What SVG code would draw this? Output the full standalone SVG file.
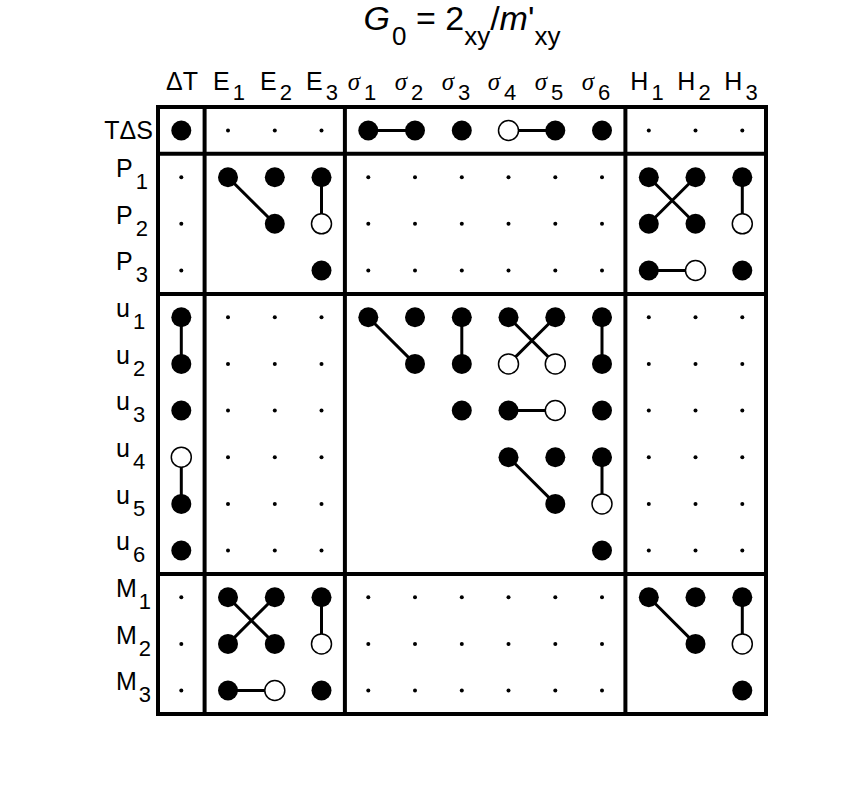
<svg xmlns="http://www.w3.org/2000/svg" width="856" height="812" viewBox="0 0 856 812">
<style>
text{font-family:"Liberation Sans",Arial,sans-serif;fill:#000}
.t{font-size:34px}
.ts{font-size:26px}
.h{font-size:25px;text-anchor:middle}
.sub{font-size:22px}
.sg{font-family:"Liberation Serif","Times New Roman",serif;font-style:italic}
.rl{font-size:25px}
.F{fill:#000}
.O{fill:#fff;stroke:#000;stroke-width:1.5}
.s{fill:#000}
.grid{fill:none;stroke:#000;stroke-width:4}
.sep{stroke:#000;stroke-width:4}
.c{stroke:#000;stroke-width:3;fill:none}
</style>
<rect width="856" height="812" fill="#fff"/>
<g id="title">
<text class="t" x="462" y="30" text-anchor="middle"><tspan font-style="italic">G</tspan><tspan class="ts" dx="2" dy="15">0</tspan><tspan dy="-15"> = 2</tspan><tspan class="ts" dy="15">xy</tspan><tspan dy="-15">/</tspan><tspan font-style="italic">m</tspan><tspan>'</tspan><tspan class="ts" dy="15">xy</tspan></text>
</g>
<g id="col-labels">
<text class="h" x="182" y="90">ΔT</text>
<text class="h" x="229" y="90">E<tspan class="sub" dx="3" dy="10">1</tspan></text>
<text class="h" x="276" y="90">E<tspan class="sub" dx="3" dy="10">2</tspan></text>
<text class="h" x="322" y="90">E<tspan class="sub" dx="3" dy="10">3</tspan></text>
<text class="h" x="362" y="90"><tspan class="sg">σ</tspan><tspan class="sub" dx="4" dy="10">1</tspan></text>
<text class="h" x="409" y="90"><tspan class="sg">σ</tspan><tspan class="sub" dx="4" dy="10">2</tspan></text>
<text class="h" x="456" y="90"><tspan class="sg">σ</tspan><tspan class="sub" dx="4" dy="10">3</tspan></text>
<text class="h" x="502" y="90"><tspan class="sg">σ</tspan><tspan class="sub" dx="4" dy="10">4</tspan></text>
<text class="h" x="549" y="90"><tspan class="sg">σ</tspan><tspan class="sub" dx="4" dy="10">5</tspan></text>
<text class="h" x="596" y="90"><tspan class="sg">σ</tspan><tspan class="sub" dx="4" dy="10">6</tspan></text>
<text class="h" x="647" y="90">H<tspan class="sub" dx="3" dy="10">1</tspan></text>
<text class="h" x="694" y="90">H<tspan class="sub" dx="3" dy="10">2</tspan></text>
<text class="h" x="741" y="90">H<tspan class="sub" dx="3" dy="10">3</tspan></text>
</g>
<g id="row-labels">
<text class="rl" x="153" y="139" text-anchor="end">TΔS</text>
<text class="rl" x="116" y="177">P<tspan class="sub" dx="3" dy="12">1</tspan></text>
<text class="rl" x="116" y="224">P<tspan class="sub" dx="3" dy="12">2</tspan></text>
<text class="rl" x="116" y="270">P<tspan class="sub" dx="3" dy="12">3</tspan></text>
<text class="rl" x="116" y="317">u<tspan class="sub" dx="3" dy="12">1</tspan></text>
<text class="rl" x="116" y="364">u<tspan class="sub" dx="3" dy="12">2</tspan></text>
<text class="rl" x="116" y="410">u<tspan class="sub" dx="3" dy="12">3</tspan></text>
<text class="rl" x="116" y="457">u<tspan class="sub" dx="3" dy="12">4</tspan></text>
<text class="rl" x="116" y="504">u<tspan class="sub" dx="3" dy="12">5</tspan></text>
<text class="rl" x="116" y="550">u<tspan class="sub" dx="3" dy="12">6</tspan></text>
<text class="rl" x="116" y="597">M<tspan class="sub" dx="2" dy="12">1</tspan></text>
<text class="rl" x="116" y="644">M<tspan class="sub" dx="2" dy="12">2</tspan></text>
<text class="rl" x="116" y="690">M<tspan class="sub" dx="2" dy="12">3</tspan></text>
</g>
<g id="frame">
<rect class="grid" x="158" y="107" width="608" height="607"/>
<line class="sep" x1="204.6" y1="107" x2="204.6" y2="714"/>
<line class="sep" x1="344.9" y1="107" x2="344.9" y2="714"/>
<line class="sep" x1="625.4" y1="107" x2="625.4" y2="714"/>
<line class="sep" x1="158" y1="153.8" x2="766" y2="153.8"/>
<line class="sep" x1="158" y1="293.9" x2="766" y2="293.9"/>
<line class="sep" x1="158" y1="573.9" x2="766" y2="573.9"/>
</g>
<g id="small-dots">
<circle class="s" r="2" cx="228" cy="130.5"/><circle class="s" r="2" cx="274.8" cy="130.5"/><circle class="s" r="2" cx="321.5" cy="130.5"/><circle class="s" r="2" cx="648.8" cy="130.5"/><circle class="s" r="2" cx="695.5" cy="130.5"/><circle class="s" r="2" cx="742.3" cy="130.5"/>
<circle class="s" r="2" cx="181.3" cy="177.2"/><circle class="s" r="2" cx="368.3" cy="177.2"/><circle class="s" r="2" cx="415" cy="177.2"/><circle class="s" r="2" cx="461.8" cy="177.2"/><circle class="s" r="2" cx="508.5" cy="177.2"/><circle class="s" r="2" cx="555.3" cy="177.2"/><circle class="s" r="2" cx="602" cy="177.2"/>
<circle class="s" r="2" cx="181.3" cy="223.8"/><circle class="s" r="2" cx="368.3" cy="223.8"/><circle class="s" r="2" cx="415" cy="223.8"/><circle class="s" r="2" cx="461.8" cy="223.8"/><circle class="s" r="2" cx="508.5" cy="223.8"/><circle class="s" r="2" cx="555.3" cy="223.8"/><circle class="s" r="2" cx="602" cy="223.8"/>
<circle class="s" r="2" cx="181.3" cy="270.5"/><circle class="s" r="2" cx="368.3" cy="270.5"/><circle class="s" r="2" cx="415" cy="270.5"/><circle class="s" r="2" cx="461.8" cy="270.5"/><circle class="s" r="2" cx="508.5" cy="270.5"/><circle class="s" r="2" cx="555.3" cy="270.5"/><circle class="s" r="2" cx="602" cy="270.5"/>
<circle class="s" r="2" cx="228" cy="317.2"/><circle class="s" r="2" cx="274.8" cy="317.2"/><circle class="s" r="2" cx="321.5" cy="317.2"/><circle class="s" r="2" cx="648.8" cy="317.2"/><circle class="s" r="2" cx="695.5" cy="317.2"/><circle class="s" r="2" cx="742.3" cy="317.2"/>
<circle class="s" r="2" cx="228" cy="363.9"/><circle class="s" r="2" cx="274.8" cy="363.9"/><circle class="s" r="2" cx="321.5" cy="363.9"/><circle class="s" r="2" cx="648.8" cy="363.9"/><circle class="s" r="2" cx="695.5" cy="363.9"/><circle class="s" r="2" cx="742.3" cy="363.9"/>
<circle class="s" r="2" cx="228" cy="410.5"/><circle class="s" r="2" cx="274.8" cy="410.5"/><circle class="s" r="2" cx="321.5" cy="410.5"/><circle class="s" r="2" cx="648.8" cy="410.5"/><circle class="s" r="2" cx="695.5" cy="410.5"/><circle class="s" r="2" cx="742.3" cy="410.5"/>
<circle class="s" r="2" cx="228" cy="457.2"/><circle class="s" r="2" cx="274.8" cy="457.2"/><circle class="s" r="2" cx="321.5" cy="457.2"/><circle class="s" r="2" cx="648.8" cy="457.2"/><circle class="s" r="2" cx="695.5" cy="457.2"/><circle class="s" r="2" cx="742.3" cy="457.2"/>
<circle class="s" r="2" cx="228" cy="503.9"/><circle class="s" r="2" cx="274.8" cy="503.9"/><circle class="s" r="2" cx="321.5" cy="503.9"/><circle class="s" r="2" cx="648.8" cy="503.9"/><circle class="s" r="2" cx="695.5" cy="503.9"/><circle class="s" r="2" cx="742.3" cy="503.9"/>
<circle class="s" r="2" cx="228" cy="550.5"/><circle class="s" r="2" cx="274.8" cy="550.5"/><circle class="s" r="2" cx="321.5" cy="550.5"/><circle class="s" r="2" cx="648.8" cy="550.5"/><circle class="s" r="2" cx="695.5" cy="550.5"/><circle class="s" r="2" cx="742.3" cy="550.5"/>
<circle class="s" r="2" cx="181.3" cy="597.2"/><circle class="s" r="2" cx="368.3" cy="597.2"/><circle class="s" r="2" cx="415" cy="597.2"/><circle class="s" r="2" cx="461.8" cy="597.2"/><circle class="s" r="2" cx="508.5" cy="597.2"/><circle class="s" r="2" cx="555.3" cy="597.2"/><circle class="s" r="2" cx="602" cy="597.2"/>
<circle class="s" r="2" cx="181.3" cy="643.9"/><circle class="s" r="2" cx="368.3" cy="643.9"/><circle class="s" r="2" cx="415" cy="643.9"/><circle class="s" r="2" cx="461.8" cy="643.9"/><circle class="s" r="2" cx="508.5" cy="643.9"/><circle class="s" r="2" cx="555.3" cy="643.9"/><circle class="s" r="2" cx="602" cy="643.9"/>
<circle class="s" r="2" cx="181.3" cy="690.5"/><circle class="s" r="2" cx="368.3" cy="690.5"/><circle class="s" r="2" cx="415" cy="690.5"/><circle class="s" r="2" cx="461.8" cy="690.5"/><circle class="s" r="2" cx="508.5" cy="690.5"/><circle class="s" r="2" cx="555.3" cy="690.5"/><circle class="s" r="2" cx="602" cy="690.5"/>
</g>
<g id="connectors">
<line class="c" x1="368.3" y1="130.5" x2="415" y2="130.5"/>
<line class="c" x1="508.5" y1="130.5" x2="555.3" y2="130.5"/>
<line class="c" x1="228" y1="177.2" x2="274.8" y2="223.8"/>
<line class="c" x1="321.5" y1="177.2" x2="321.5" y2="223.8"/>
<line class="c" x1="648.8" y1="177.2" x2="695.5" y2="223.8"/>
<line class="c" x1="695.5" y1="177.2" x2="648.8" y2="223.8"/>
<line class="c" x1="742.3" y1="177.2" x2="742.3" y2="223.8"/>
<line class="c" x1="648.8" y1="270.5" x2="695.5" y2="270.5"/>
<line class="c" x1="181.3" y1="317.2" x2="181.3" y2="363.9"/>
<line class="c" x1="181.3" y1="457.2" x2="181.3" y2="503.9"/>
<line class="c" x1="368.3" y1="317.2" x2="415" y2="363.9"/>
<line class="c" x1="461.8" y1="317.2" x2="461.8" y2="363.9"/>
<line class="c" x1="508.5" y1="317.2" x2="555.3" y2="363.9"/>
<line class="c" x1="555.3" y1="317.2" x2="508.5" y2="363.9"/>
<line class="c" x1="602" y1="317.2" x2="602" y2="363.9"/>
<line class="c" x1="508.5" y1="410.5" x2="555.3" y2="410.5"/>
<line class="c" x1="508.5" y1="457.2" x2="555.3" y2="503.9"/>
<line class="c" x1="602" y1="457.2" x2="602" y2="503.9"/>
<line class="c" x1="228" y1="597.2" x2="274.8" y2="643.9"/>
<line class="c" x1="274.8" y1="597.2" x2="228" y2="643.9"/>
<line class="c" x1="321.5" y1="597.2" x2="321.5" y2="643.9"/>
<line class="c" x1="228" y1="690.5" x2="274.8" y2="690.5"/>
<line class="c" x1="648.8" y1="597.2" x2="695.5" y2="643.9"/>
<line class="c" x1="742.3" y1="597.2" x2="742.3" y2="643.9"/>
</g>
<g id="nodes">
<g id="TdS-dT"><circle class="F" r="10" cx="181.3" cy="130.5"/></g>
<g id="TdS-s1"><circle class="F" r="10" cx="368.3" cy="130.5"/></g>
<g id="TdS-s2"><circle class="F" r="10" cx="415" cy="130.5"/></g>
<g id="TdS-s3"><circle class="F" r="10" cx="461.8" cy="130.5"/></g>
<g id="TdS-s4"><circle class="O" r="10" cx="508.5" cy="130.5"/></g>
<g id="TdS-s5"><circle class="F" r="10" cx="555.3" cy="130.5"/></g>
<g id="TdS-s6"><circle class="F" r="10" cx="602" cy="130.5"/></g>
<g id="P1-E1"><circle class="F" r="10" cx="228" cy="177.2"/></g>
<g id="P1-E2"><circle class="F" r="10" cx="274.8" cy="177.2"/></g>
<g id="P1-E3"><circle class="F" r="10" cx="321.5" cy="177.2"/></g>
<g id="P1-H1"><circle class="F" r="10" cx="648.8" cy="177.2"/></g>
<g id="P1-H2"><circle class="F" r="10" cx="695.5" cy="177.2"/></g>
<g id="P1-H3"><circle class="F" r="10" cx="742.3" cy="177.2"/></g>
<g id="P2-E2"><circle class="F" r="10" cx="274.8" cy="223.8"/></g>
<g id="P2-E3"><circle class="O" r="10" cx="321.5" cy="223.8"/></g>
<g id="P2-H1"><circle class="F" r="10" cx="648.8" cy="223.8"/></g>
<g id="P2-H2"><circle class="F" r="10" cx="695.5" cy="223.8"/></g>
<g id="P2-H3"><circle class="O" r="10" cx="742.3" cy="223.8"/></g>
<g id="P3-E3"><circle class="F" r="10" cx="321.5" cy="270.5"/></g>
<g id="P3-H1"><circle class="F" r="10" cx="648.8" cy="270.5"/></g>
<g id="P3-H2"><circle class="O" r="10" cx="695.5" cy="270.5"/></g>
<g id="P3-H3"><circle class="F" r="10" cx="742.3" cy="270.5"/></g>
<g id="u1-dT"><circle class="F" r="10" cx="181.3" cy="317.2"/></g>
<g id="u1-s1"><circle class="F" r="10" cx="368.3" cy="317.2"/></g>
<g id="u1-s2"><circle class="F" r="10" cx="415" cy="317.2"/></g>
<g id="u1-s3"><circle class="F" r="10" cx="461.8" cy="317.2"/></g>
<g id="u1-s4"><circle class="F" r="10" cx="508.5" cy="317.2"/></g>
<g id="u1-s5"><circle class="F" r="10" cx="555.3" cy="317.2"/></g>
<g id="u1-s6"><circle class="F" r="10" cx="602" cy="317.2"/></g>
<g id="u2-dT"><circle class="F" r="10" cx="181.3" cy="363.9"/></g>
<g id="u2-s2"><circle class="F" r="10" cx="415" cy="363.9"/></g>
<g id="u2-s3"><circle class="F" r="10" cx="461.8" cy="363.9"/></g>
<g id="u2-s4"><circle class="O" r="10" cx="508.5" cy="363.9"/></g>
<g id="u2-s5"><circle class="O" r="10" cx="555.3" cy="363.9"/></g>
<g id="u2-s6"><circle class="F" r="10" cx="602" cy="363.9"/></g>
<g id="u3-dT"><circle class="F" r="10" cx="181.3" cy="410.5"/></g>
<g id="u3-s3"><circle class="F" r="10" cx="461.8" cy="410.5"/></g>
<g id="u3-s4"><circle class="F" r="10" cx="508.5" cy="410.5"/></g>
<g id="u3-s5"><circle class="O" r="10" cx="555.3" cy="410.5"/></g>
<g id="u3-s6"><circle class="F" r="10" cx="602" cy="410.5"/></g>
<g id="u4-dT"><circle class="O" r="10" cx="181.3" cy="457.2"/></g>
<g id="u4-s4"><circle class="F" r="10" cx="508.5" cy="457.2"/></g>
<g id="u4-s5"><circle class="F" r="10" cx="555.3" cy="457.2"/></g>
<g id="u4-s6"><circle class="F" r="10" cx="602" cy="457.2"/></g>
<g id="u5-dT"><circle class="F" r="10" cx="181.3" cy="503.9"/></g>
<g id="u5-s5"><circle class="F" r="10" cx="555.3" cy="503.9"/></g>
<g id="u5-s6"><circle class="O" r="10" cx="602" cy="503.9"/></g>
<g id="u6-dT"><circle class="F" r="10" cx="181.3" cy="550.5"/></g>
<g id="u6-s6"><circle class="F" r="10" cx="602" cy="550.5"/></g>
<g id="M1-E1"><circle class="F" r="10" cx="228" cy="597.2"/></g>
<g id="M1-E2"><circle class="F" r="10" cx="274.8" cy="597.2"/></g>
<g id="M1-E3"><circle class="F" r="10" cx="321.5" cy="597.2"/></g>
<g id="M1-H1"><circle class="F" r="10" cx="648.8" cy="597.2"/></g>
<g id="M1-H2"><circle class="F" r="10" cx="695.5" cy="597.2"/></g>
<g id="M1-H3"><circle class="F" r="10" cx="742.3" cy="597.2"/></g>
<g id="M2-E1"><circle class="F" r="10" cx="228" cy="643.9"/></g>
<g id="M2-E2"><circle class="F" r="10" cx="274.8" cy="643.9"/></g>
<g id="M2-E3"><circle class="O" r="10" cx="321.5" cy="643.9"/></g>
<g id="M2-H2"><circle class="F" r="10" cx="695.5" cy="643.9"/></g>
<g id="M2-H3"><circle class="O" r="10" cx="742.3" cy="643.9"/></g>
<g id="M3-E1"><circle class="F" r="10" cx="228" cy="690.5"/></g>
<g id="M3-E2"><circle class="O" r="10" cx="274.8" cy="690.5"/></g>
<g id="M3-E3"><circle class="F" r="10" cx="321.5" cy="690.5"/></g>
<g id="M3-H3"><circle class="F" r="10" cx="742.3" cy="690.5"/></g>
</g>
</svg>
